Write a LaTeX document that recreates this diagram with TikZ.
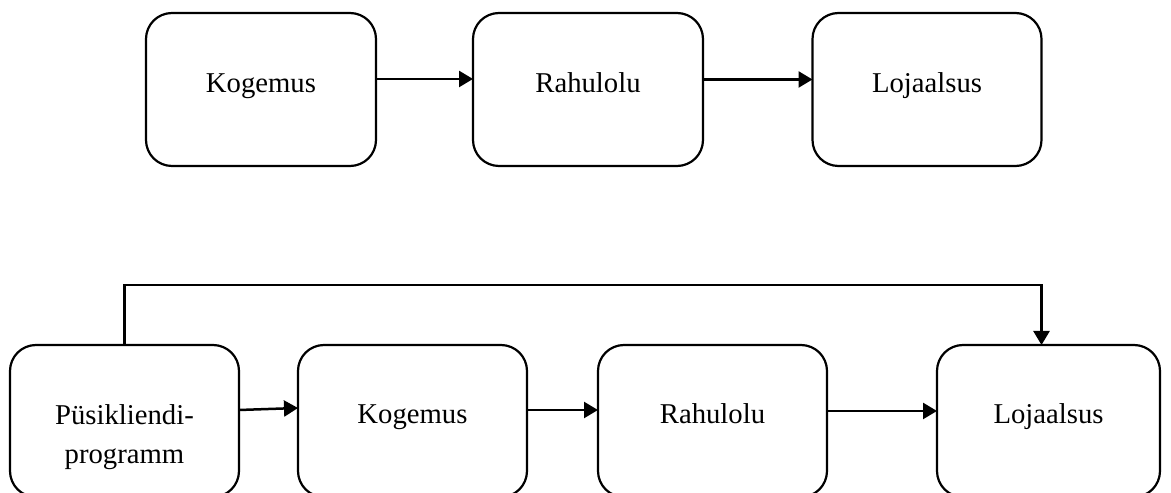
\documentclass[tikz,border=0pt]{standalone}
\usepackage{fontspec}
\setmainfont{Liberation Serif}
\usetikzlibrary{arrows.meta}
\begin{document}
\begin{tikzpicture}[x=1pt,y=1pt,
  box/.style={draw=black, line width=2.2pt, rounded corners=26pt, minimum height=#1, inner sep=0pt, outer sep=0pt},
  box/.default=153pt,
  lbl/.style={anchor=base, inner sep=0pt, font=\fontsize{28.7}{40}\selectfont, align=center},
  arr/.style={line width=2.5pt, -{Triangle[length=14pt,width=16pt]}},
  ln/.style={line width=2.5pt}]
\useasboundingbox (0,0) rectangle (1171,493);
% top row
\node[box, minimum width=230pt] (t1) at (261,403.5) {};
\node[box, minimum width=230pt] (t2) at (588,403.5) {};
\node[box, minimum width=229pt] (t3) at (927,403.5) {};
\node[lbl] (t1l) at (261,400) {Kogemus};
\node[lbl] (t2l) at (588,400) {Rahulolu};
\node[lbl] (t3l) at (927,400) {Lojaalsus};
\draw[arr] ([yshift=10.5pt]t1.east) -- ([yshift=10.5pt]t2.west);
\draw[arr] ([yshift=10pt]t2.east) -- ([yshift=10pt]t3.west);
% bottom row
\node[box=152pt, minimum width=229pt] (p) at (124.5,72) {};
\node[box=152pt, minimum width=229pt] (k) at (412.5,72) {};
\node[box=152pt, minimum width=229pt] (r) at (712.5,72) {};
\node[box=152pt, minimum width=223pt] (l) at (1048.5,72) {};
\node[lbl] (pl) at (124.5,29) {Püsikliendi-\\programm};
\node[lbl] (kl) at (412.5,69) {Kogemus};
\node[lbl] (rl) at (712.5,69) {Rahulolu};
\node[lbl] (ll) at (1048.5,69) {Lojaalsus};
\draw[arr] ([yshift=11pt]p.east) -- ([yshift=13pt]k.west);
\draw[arr] ([yshift=11pt]k.east) -- ([yshift=11pt]r.west);
\draw[arr] ([yshift=10pt]r.east) -- ([yshift=10pt]l.west);
\coordinate (top) at (0,208);
\draw[arr] (p.north) -- (p.north |- top) -| ([xshift=-7pt]l.north);
\end{tikzpicture}
\end{document}
